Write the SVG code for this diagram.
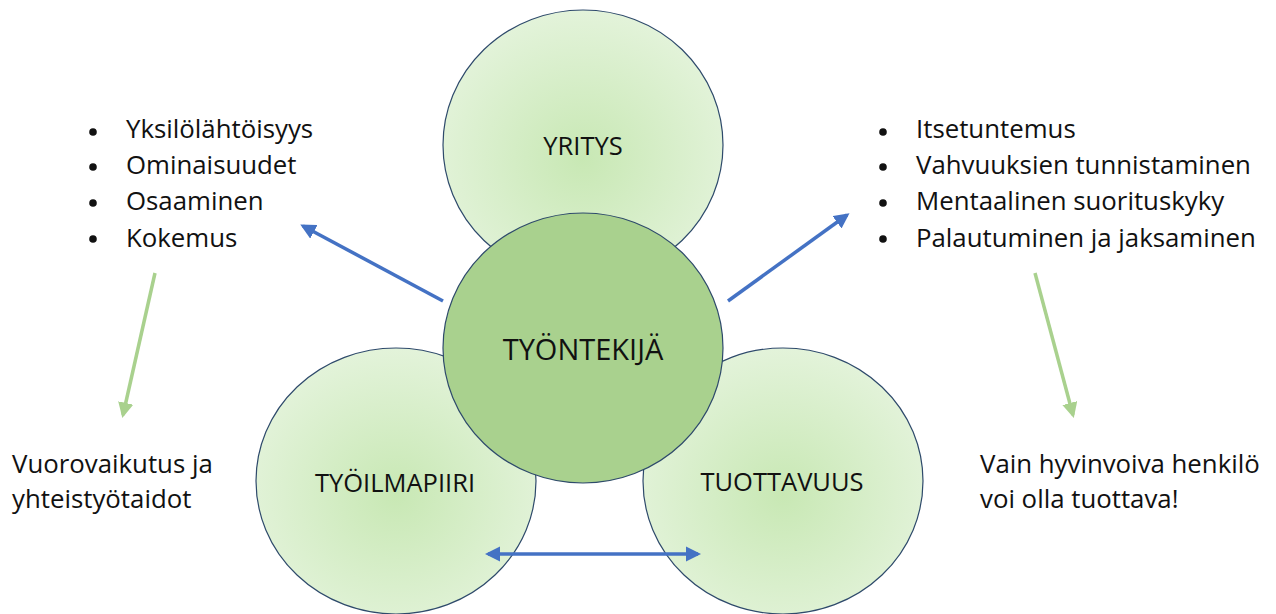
<svg xmlns="http://www.w3.org/2000/svg" width="1276" height="614" viewBox="0 0 1276 614">
  <style>
    .txt { font-family: "Open Sans", "Liberation Sans", sans-serif; fill: #111; }
    .list { font-size: 25.8px; }
    .label { font-size: 25.5px; text-anchor: middle; dominant-baseline: central; }
    .big { font-size: 29px; }
    .outer { fill: url(#softGreen); stroke: #2e4a6b; stroke-width: 1.2; }
    .core { fill: #a9d18e; stroke: #2e4a6b; stroke-width: 1.2; }
    .blue { stroke: #4472c4; stroke-width: 3.5; fill: none; }
    .green { stroke: #a9d18e; stroke-width: 3.5; fill: none; }
  </style>
  <defs>
    <radialGradient id="softGreen" cx="50%" cy="55%" r="55%">
      <stop offset="0" stop-color="#c8e8b4"/>
      <stop offset="1" stop-color="#e3f3da"/>
    </radialGradient>
    <marker id="headBlue" viewBox="0 0 10 10" refX="8" refY="5" markerWidth="4.4" markerHeight="4.4" orient="auto-start-reverse">
      <path d="M0,0 L10,5 L0,10 Z" fill="#4472c4"/>
    </marker>
    <marker id="headGreen" viewBox="0 0 10 10" refX="8" refY="5" markerWidth="4.4" markerHeight="4.4" orient="auto">
      <path d="M0,0 L10,5 L0,10 Z" fill="#a9d18e"/>
    </marker>
  </defs>

  <rect width="1276" height="614" fill="#ffffff"/>

  <g id="yritys">
    <ellipse class="outer" cx="583" cy="145" rx="140" ry="135"/>
    <text class="txt label" x="583" y="145">YRITYS</text>
  </g>

  <g id="tyoilmapiiri">
    <ellipse class="outer" cx="396" cy="481" rx="140" ry="133"/>
    <text class="txt label" x="395" y="482">TYÖILMAPIIRI</text>
  </g>

  <g id="tuottavuus">
    <ellipse class="outer" cx="783" cy="481" rx="140" ry="133"/>
    <text class="txt label" x="782" y="481">TUOTTAVUUS</text>
  </g>

  <g id="tyontekija">
    <ellipse class="core" cx="583" cy="348" rx="140" ry="135"/>
    <text class="txt label big" x="583" y="348">TYÖNTEKIJÄ</text>
  </g>

  <g id="connectors">
    <line class="blue" x1="443" y1="301" x2="303" y2="226" marker-end="url(#headBlue)"/>
    <line class="blue" x1="728" y1="301" x2="847" y2="215" marker-end="url(#headBlue)"/>
    <line class="blue" x1="488" y1="554" x2="698" y2="554" marker-start="url(#headBlue)" marker-end="url(#headBlue)"/>
    <line class="green" x1="155" y1="273" x2="123" y2="415" marker-end="url(#headGreen)"/>
    <line class="green" x1="1035" y1="273" x2="1073" y2="415" marker-end="url(#headGreen)"/>
  </g>

  <g id="left-list" class="txt list">
    <circle cx="93" cy="132" r="3.8"/>
    <circle cx="93" cy="167" r="3.8"/>
    <circle cx="93" cy="203" r="3.8"/>
    <circle cx="93" cy="239" r="3.8"/>
    <text x="126" y="138">Yksilölähtöisyys</text>
    <text x="126" y="174">Ominaisuudet</text>
    <text x="126" y="210">Osaaminen</text>
    <text x="126" y="247">Kokemus</text>
  </g>

  <g id="right-list" class="txt list">
    <circle cx="883" cy="132" r="3.8"/>
    <circle cx="883" cy="167" r="3.8"/>
    <circle cx="883" cy="203" r="3.8"/>
    <circle cx="883" cy="239" r="3.8"/>
    <text x="916" y="138">Itsetuntemus</text>
    <text x="916" y="174">Vahvuuksien tunnistaminen</text>
    <text x="916" y="210">Mentaalinen suorituskyky</text>
    <text x="916" y="247">Palautuminen ja jaksaminen</text>
  </g>

  <g id="left-note" class="txt list">
    <text x="12" y="473">Vuorovaikutus ja</text>
    <text x="12" y="508">yhteistyötaidot</text>
  </g>

  <g id="right-note" class="txt list">
    <text x="980" y="473">Vain hyvinvoiva henkilö</text>
    <text x="980" y="508">voi olla tuottava!</text>
  </g>
</svg>
